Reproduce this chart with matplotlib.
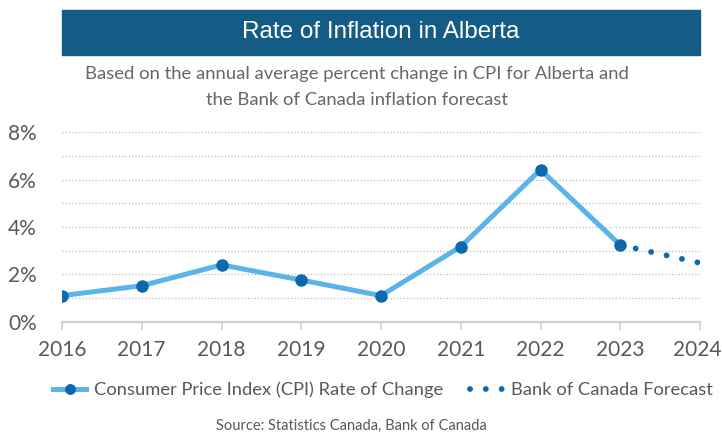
import numpy as np
import matplotlib.pyplot as plt
from matplotlib.patches import Rectangle
from matplotlib.ticker import FixedLocator, FuncFormatter
from matplotlib.transforms import ScaledTranslation

years = [2016, 2017, 2018, 2019, 2020, 2021, 2022, 2023]
cpi = [1.1, 1.52, 2.4, 1.76, 1.1, 3.17, 6.42, 3.24]
fc_years = [2023, 2024]
fc_vals = [3.24, 2.48]

light_blue = '#5ab4e8'
dark_blue = '#0b6aae'
grey_txt = '#595959'

plt.rcParams['font.family'] = ['Lato', 'DejaVu Sans']

fig = plt.figure(figsize=(7.22, 4.34), dpi=100)
ax = fig.add_axes([62/722, 1-321.7/434, 638/722, 189.4/434])

ax.plot(years, cpi, color=light_blue, lw=3.6, marker='o', ms=8,
        mfc=dark_blue, mec=dark_blue, zorder=3,
        label='Consumer Price Index (CPI) Rate of Change')
ax.plot(fc_years, fc_vals, color=dark_blue, lw=4.2,
        linestyle=(0, (0.01, 2.7)), dash_capstyle='round', zorder=2,
        label='Bank of Canada Forecast')

ax.set_xlim(2016, 2024)
ax.set_ylim(0, 8)
ax.set_xticks(range(2016, 2025))
ax.set_yticks([0, 2, 4, 6, 8])
ax.yaxis.set_minor_locator(FixedLocator([1, 3, 5, 7]))
ax.yaxis.set_major_formatter(FuncFormatter(lambda v, p: '%d%%' % v))
ax.grid(axis='y', which='both', linestyle=':', color='#bdbdbd', lw=0.9)
ax.set_axisbelow(True)

for s in ['top', 'right', 'left']:
    ax.spines[s].set_visible(False)
ax.spines['bottom'].set_color('#d0d0d0')
ax.spines['bottom'].set_linewidth(1.6)
ax.tick_params(axis='x', length=6, width=1.2, color='#d0d0d0',
               labelsize=15, labelcolor=grey_txt, pad=7)
ax.tick_params(axis='y', which='both', length=0, labelsize=15,
               labelcolor=grey_txt, pad=18)

# last year label sits on the edge, nudge it in a bit
lab = ax.get_xticklabels()[-1]
lab.set_transform(lab.get_transform() + ScaledTranslation(-0.03, 0, fig.dpi_scale_trans))

# title bar
fig.patches.append(Rectangle((62/722, 1-55/434), 638/722, 45/434,
                             transform=fig.transFigure, color='#145c86'))
fig.text(381/722, 1-32/434, 'Rate of Inflation in Alberta', color='white',
         fontsize=17.5, family='Liberation Sans', ha='center', va='center')
fig.text(357/722, 1-74/434,
         'Based on the annual average percent change in CPI for Alberta and',
         color='#666666', fontsize=13.3, ha='center', va='center')
fig.text(357/722, 1-100/434, 'the Bank of Canada inflation forecast',
         color='#666666', fontsize=13.3, ha='center', va='center')

fig.legend(loc='center', bbox_to_anchor=(383/722, 1-390/434), ncol=2,
           frameon=False, fontsize=13.2, labelcolor=grey_txt,
           handlelength=1.8, columnspacing=1.5, handletextpad=0.4,
           markerscale=0.85)

fig.text(351/722, 1-426/434, 'Source: Statistics Canada, Bank of Canada',
         color=grey_txt, fontsize=10.5, ha='center', va='center')

fig.savefig('out.png', dpi=100)
